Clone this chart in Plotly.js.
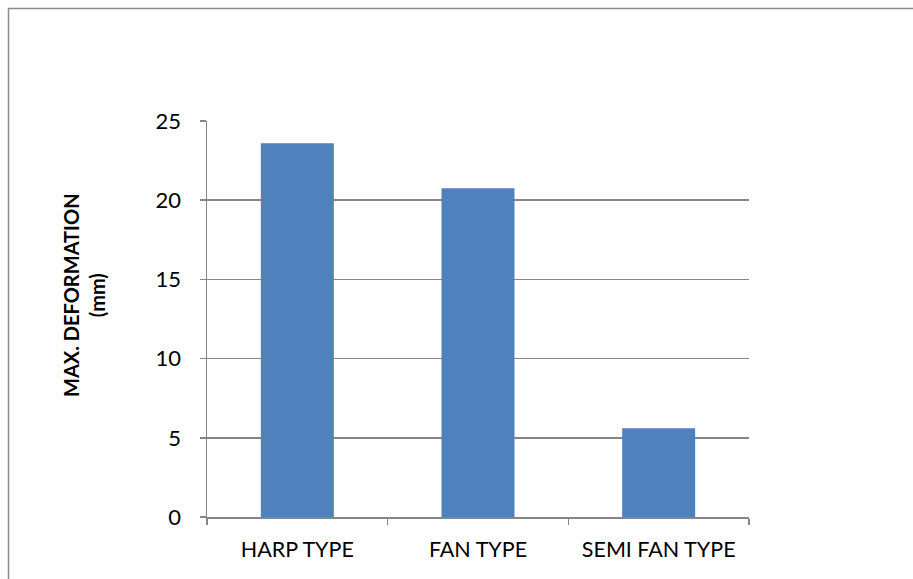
<!DOCTYPE html>
<html><head><meta charset="utf-8">
<script src="https://cdn.plot.ly/plotly-3.0.1.min.js"></script>
<style>html,body{margin:0;padding:0;background:#fff}#c{width:913px;height:579px}</style>
</head><body><div id="c"></div>
<script>
const categories = ["HARP TYPE", "FAN TYPE", "SEMI FAN TYPE"];
const maxDeformation = [23.6, 20.75, 5.6];
const yTicks = [0, 5, 10, 15, 20, 25];

const W = 913, H = 579, L = 207, R = 164, T = 121, B = 62;
const pw = W - L - R, ph = H - T - B;
const px = x => (x - L) / pw;
const py = y => (H - B - y) / ph;

const data = [{
  type: 'bar', x: categories, y: maxDeformation,
  marker: {color: '#4F81BD'}, hoverinfo: 'x+y'
}];
const layout = {
  width: W, height: H,
  margin: {l: L, r: R, t: T, b: B, pad: 0},
  paper_bgcolor: '#fff', plot_bgcolor: '#fff',
  showlegend: false, bargap: 0.596,
  font: {family: 'Lato, "Open Sans", sans-serif', color: '#000'},
  xaxis: {
    type: 'category', showgrid: false, showline: true, linecolor: '#868686', linewidth: 1.5,
    ticks: 'outside', tickson: 'boundaries', ticklen: 6, tickcolor: '#868686', tickwidth: 1.5,
    tickfont: {size: 21.5, family: 'Lato, sans-serif'}, ticklabelstandoff: 13, zeroline: false
  },
  yaxis: {
    range: [0, 25], tickvals: yTicks, ticktext: yTicks.map(String),
    showgrid: true, gridcolor: '#868686', gridwidth: 1.5,
    showline: true, linecolor: '#868686', linewidth: 1.5,
    ticks: 'outside', ticklen: 6, tickcolor: '#868686', tickwidth: 1.5,
    tickfont: {size: 22, family: 'Lato, sans-serif'}, ticklabelstandoff: 14, zeroline: false
  },
  annotations: [{
    xref: 'paper', yref: 'paper', x: px(84), y: py(295), xanchor: 'center', yanchor: 'middle',
    showarrow: false, textangle: -90, text: 'MAX. DEFORMATION<br>(mm)',
    font: {size: 20, family: 'Lato, sans-serif', color: '#000', weight: 'bold'}, align: 'center'
  }],
  shapes: [{
    type: 'rect', xref: 'paper', yref: 'paper', layer: 'above',
    x0: px(8.5), x1: px(W + 20), y0: py(H + 20), y1: py(8.5),
    line: {color: '#8a8a8a', width: 1.5}, fillcolor: 'rgba(0,0,0,0)'
  }]
};
Plotly.newPlot('c', data, layout, {displayModeBar: false, staticPlot: true});
</script></body></html>
